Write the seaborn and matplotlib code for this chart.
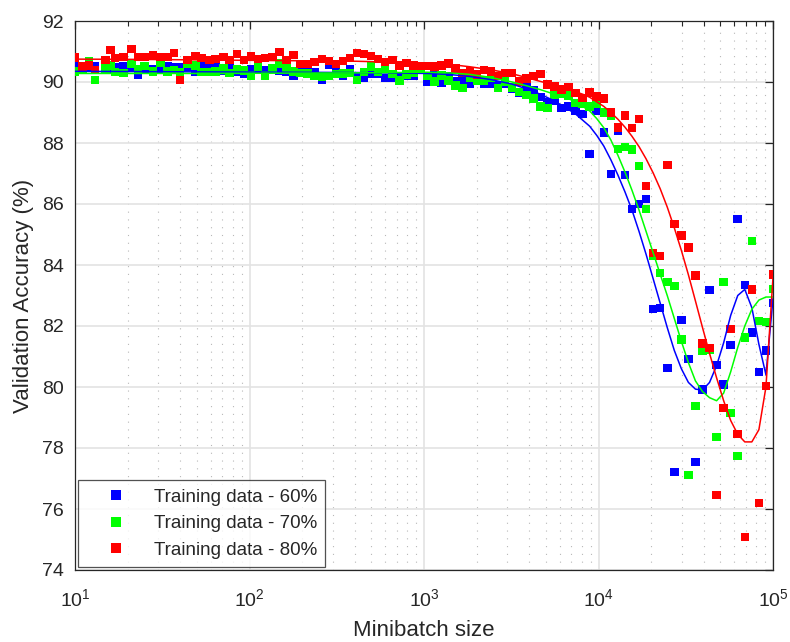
import matplotlib
matplotlib.use("Agg")
import matplotlib.pyplot as plt
from matplotlib.lines import Line2D
from matplotlib.ticker import LogLocator, NullFormatter
import pandas as pd
import seaborn as sns

# Minibatch sizes (log-spaced, 100 runs per training split)
batch_sizes = [10, 11, 12, 13, 15, 16, 17, 19, 21, 23,
               25, 28, 31, 34, 37, 40, 44, 49, 53, 59,
               64, 71, 77, 85, 93, 102, 112, 123, 135, 149,
               163, 179, 196, 215, 236, 260, 285, 313, 343, 376,
               413, 453, 498, 546, 599, 658, 722, 792, 870, 954,
               1047, 1150, 1262, 1385, 1520, 1668, 1830, 2009, 2205, 2420,
               2656, 2915, 3199, 3511, 3853, 4229, 4641, 5094, 5590, 6136,
               6734, 7390, 8111, 8902, 9770, 10723, 11768, 12915, 14175, 15557,
               17074, 18738, 20565, 22570, 24771, 27186, 29837, 32746, 35938, 39442,
               43288, 47508, 52140, 57224, 62803, 68926, 75646, 83022, 91116, 100000]

acc_60 = [90.51, 90.45, 90.49, 90.51, 90.49, 90.43, 90.49, 90.52, 90.46, 90.23,
          90.43, 90.43, 90.39, 90.52, 90.49, 90.49, 90.49, 90.33, 90.52, 90.46,
          90.52, 90.36, 90.46, 90.33, 90.26, 90.42, 90.42, 90.39, 90.43, 90.37,
          90.33, 90.20, 90.43, 90.43, 90.33, 90.09, 90.56, 90.43, 90.20, 90.43,
          90.19, 90.13, 90.26, 90.26, 90.13, 90.15, 90.17, 90.20, 90.20, 90.39,
          90.02, 90.21, 89.97, 90.19, 90.02, 90.02, 89.93, 90.26, 89.93, 89.93,
          89.89, 89.93, 89.77, 89.66, 89.84, 89.74, 89.51, 89.34, 89.39, 89.15,
          89.20, 89.07, 88.95, 87.64, 89.07, 88.34, 86.98, 88.40, 86.95, 85.84,
          86.00, 86.16, 82.56, 82.59, 80.62, 77.21, 82.20, 80.92, 77.54, 79.91,
          83.18, 80.72, 80.08, 81.38, 85.51, 83.34, 81.79, 80.49, 81.20, 82.76]

acc_70 = [90.35, 90.40, 90.69, 90.06, 90.45, 90.55, 90.33, 90.29, 90.59, 90.43,
          90.52, 90.35, 90.62, 90.35, 90.40, 90.33, 90.59, 90.55, 90.33, 90.33,
          90.35, 90.45, 90.30, 90.42, 90.38, 90.22, 90.50, 90.22, 90.46, 90.61,
          90.48, 90.35, 90.30, 90.28, 90.20, 90.17, 90.20, 90.26, 90.28, 90.30,
          90.06, 90.33, 90.50, 90.33, 90.46, 90.26, 90.04, 90.25, 90.30, 90.39,
          90.20, 90.02, 90.22, 90.05, 89.89, 89.80, 90.13, 90.04, 90.05, 90.13,
          89.80, 90.02, 89.82, 89.67, 89.58, 89.45, 89.20, 89.15, 89.58, 89.60,
          89.55, 89.31, 89.28, 89.20, 89.28, 89.00, 88.90, 87.80, 87.87, 87.78,
          87.25, 85.84, 84.30, 83.74, 83.44, 83.31, 81.55, 77.11, 79.38, 81.20,
          81.22, 78.36, 83.44, 79.15, 77.74, 81.62, 84.79, 82.16, 82.13, 83.21]

acc_80 = [90.80, 90.50, 90.55, 90.40, 90.72, 91.05, 90.79, 90.82, 91.08, 90.82,
          90.82, 90.88, 90.82, 90.82, 90.95, 90.06, 90.72, 90.85, 90.79, 90.72,
          90.75, 90.82, 90.72, 90.92, 90.72, 90.85, 90.75, 90.79, 90.82, 90.98,
          90.72, 90.88, 90.59, 90.59, 90.66, 90.75, 90.69, 90.59, 90.69, 90.79,
          90.95, 90.92, 90.85, 90.75, 90.65, 90.72, 90.55, 90.62, 90.55, 90.52,
          90.52, 90.51, 90.55, 90.60, 90.44, 90.29, 90.35, 90.24, 90.40, 90.35,
          90.19, 90.29, 90.29, 90.02, 90.11, 90.19, 90.26, 89.91, 89.86, 89.75,
          89.84, 89.64, 89.47, 89.66, 89.53, 89.45, 89.00, 88.51, 88.90, 88.49,
          88.79, 86.59, 84.39, 84.30, 87.28, 85.34, 84.96, 84.57, 83.65, 81.42,
          81.28, 76.46, 79.31, 81.90, 78.46, 75.08, 83.19, 76.20, 80.03, 83.68]

# Smoothed trend for each split, evaluated at a subset of the batch sizes
fit_sizes = [10, 25, 64, 163, 413, 1047, 1385, 1830, 2420, 3199, 3853, 4641, 5590,
             6734, 7390, 8111, 8902, 9770, 10723, 11768, 12915, 14175, 15557,
             17074, 18738, 20565, 22570, 24771, 27186, 29837, 32746, 35938, 39442,
             43288, 47508, 52140, 57224, 62803, 68926, 75646, 83022, 91116, 100000]

fit_60 = [90.35, 90.34, 90.33, 90.32, 90.31, 90.28, 90.25, 90.18, 90.08, 89.93, 89.78, 89.60, 89.38,
          89.10, 88.95, 88.75, 88.55, 88.25, 87.90, 87.45, 86.95, 86.40, 85.80,
          85.10, 84.35, 83.55, 82.75, 81.95, 81.20, 80.60, 80.15, 79.93, 79.90,
          80.15, 80.70, 81.45, 82.35, 83.00, 83.20, 82.60, 81.40, 80.40, 82.90]

fit_70 = [90.28, 90.28, 90.28, 90.29, 90.30, 90.32, 90.30, 90.25, 90.15, 90.00, 89.88, 89.75, 89.60,
          89.45, 89.35, 89.20, 89.05, 88.80, 88.50, 88.10, 87.60, 87.05, 86.45,
          85.80, 85.10, 84.40, 83.70, 83.00, 82.25, 81.50, 80.80, 80.20, 79.85,
          79.65, 79.55, 79.80, 80.50, 81.30, 82.00, 82.55, 82.85, 82.95, 82.95]

fit_80 = [90.75, 90.74, 90.72, 90.70, 90.68, 90.62, 90.58, 90.50, 90.40, 90.27, 90.15, 90.02, 89.90,
          89.75, 89.68, 89.60, 89.50, 89.35, 89.20, 89.00, 88.78, 88.52, 88.22,
          87.88, 87.48, 87.02, 86.50, 85.90, 85.22, 84.48, 83.68, 82.82, 81.95,
          81.10, 80.30, 79.55, 78.90, 78.45, 78.20, 78.20, 78.60, 80.00, 83.60]

series_labels = ["Training data - 60%", "Training data - 70%", "Training data - 80%"]
series_colors = ["#0000ff", "#00ff00", "#ff0000"]

points = pd.concat([
    pd.DataFrame({"size": batch_sizes, "acc": vals, "split": lab})
    for vals, lab in zip([acc_60, acc_70, acc_80], series_labels)
], ignore_index=True)
trends = pd.concat([
    pd.DataFrame({"size": fit_sizes, "acc": vals, "split": lab})
    for vals, lab in zip([fit_60, fit_70, fit_80], series_labels)
], ignore_index=True)
palette = dict(zip(series_labels, series_colors))

sns.set_style("white")
plt.rcParams["font.family"] = ["Liberation Sans", "DejaVu Sans"]
plt.rcParams["mathtext.default"] = "regular"

fig = plt.figure(figsize=(7.9, 6.42), dpi=100)
ax = fig.add_axes([75 / 790, 1 - 570 / 642, 698 / 790, 549 / 642])
ax.set_xscale("log")

sns.scatterplot(data=points, x="size", y="acc", hue="split", palette=palette,
                marker="s", s=38, linewidth=0, legend=False, ax=ax, zorder=3)
sns.lineplot(data=trends, x="size", y="acc", hue="split", palette=palette,
             linewidth=1.1, legend=False, ax=ax, zorder=4)

ax.set_xlim(10, 1e5)
ax.set_ylim(74, 92)
ax.set_yticks(range(74, 93, 2))
ax.xaxis.set_major_locator(LogLocator(base=10, numticks=10))
ax.xaxis.set_minor_locator(LogLocator(base=10, subs=range(2, 10), numticks=100))
ax.xaxis.set_minor_formatter(NullFormatter())

ax.set_axisbelow(True)
ax.grid(True, which="major", color="#e3e3e3", linewidth=1.2)
ax.grid(True, which="minor", axis="x", color="#b8b8b8", linewidth=0.8,
        linestyle=(0, (1, 6)))

for sp in ax.spines.values():
    sp.set_color("#262626")
    sp.set_linewidth(0.9)
ax.tick_params(which="both", direction="in", top=True, right=True,
               colors="#262626", labelsize=14)
ax.tick_params(which="major", length=6, width=0.9)
ax.tick_params(which="minor", length=3.5, width=0.8)
ax.tick_params(axis="x", pad=13)
ax.tick_params(axis="y", pad=8)

ax.set_xlabel("Minibatch size", fontsize=16, color="#262626", labelpad=7)
ax.set_ylabel("Validation Accuracy (%)", fontsize=16, color="#262626", labelpad=6)

handles = [Line2D([], [], linestyle="none", marker="s", markersize=7.5,
                  markerfacecolor=c, markeredgewidth=0) for c in series_colors]
leg = ax.legend(handles, series_labels, loc="lower left", fontsize=13.5,
                frameon=True, fancybox=False, edgecolor="#262626",
                borderaxespad=0.15, handlelength=3.2, handletextpad=0.4,
                borderpad=0.45, labelspacing=0.5)
leg.get_frame().set_linewidth(0.9)
leg.set_zorder(10)

fig.savefig("out.png", dpi=100)
